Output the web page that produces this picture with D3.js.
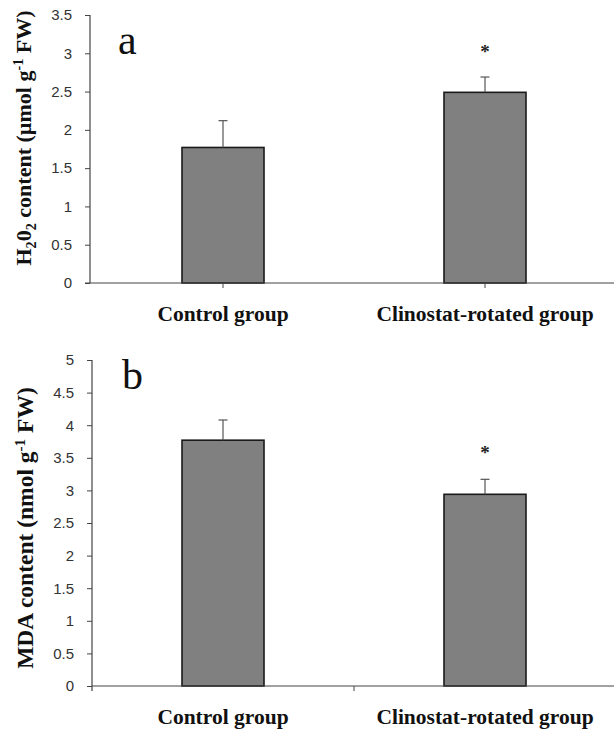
<!DOCTYPE html>
<html>
<head>
<meta charset="utf-8">
<script src="https://cdn.jsdelivr.net/npm/d3@7"></script>
<style>
  html, body { margin: 0; padding: 0; background: #fff; }
  svg { display: block; }
</style>
</head>
<body>
<div id="graf"></div>
<script>
// data
const groups = ["Control group", "Clinostat-rotated group"];
const h2o2Mean = [1.77, 2.49];
const h2o2Err = [0.35, 0.20];
const h2o2Sig = [false, true];
const h2o2Ticks = [0, 0.5, 1, 1.5, 2, 2.5, 3, 3.5];
const mdaMean = [3.77, 2.94];
const mdaErr = [0.31, 0.23];
const mdaSig = [false, true];
const mdaTicks = [0, 0.5, 1, 1.5, 2, 2.5, 3, 3.5, 4, 4.5, 5];

let width = 614, height = 731;

let svg = d3.select("#graf").append("svg")
            .attr("width", width)
            .attr("height", height)
            .attr("viewBox", [0, 0, width, height]);

const serif = "'Liberation Serif', 'Times New Roman', serif";
const sans = "'Liberation Sans', Arial, sans-serif";

let panels = [
    { letter: "a", mean: h2o2Mean, err: h2o2Err, sig: h2o2Sig, ticks: h2o2Ticks,
      top: 15, bottom: 283, axisX: 90, letterX: 118, letterY: 54,
      labelX: 31, labelY: 138, labelSize: 22, sigOffset: 31, xTicks: "center" },
    { letter: "b", mean: mdaMean, err: mdaErr, sig: mdaSig, ticks: mdaTicks,
      top: 360, bottom: 686, axisX: 92, letterX: 122, letterY: 389,
      labelX: 33, labelY: 528, labelSize: 23.5, sigOffset: 32, xTicks: "between" }
];

panels.forEach(p => {
    const g = svg.append("g");
    const ymax = p.ticks[p.ticks.length - 1];
    const y = d3.scaleLinear().domain([0, ymax]).range([p.bottom, p.top]);
    const x = d3.scaleBand().domain(groups).range([92, 616]).padding(0);
    const barW = x.bandwidth() * 0.313;

    // y axis
    const yAxis = g.append("g")
        .attr("transform", `translate(${p.axisX},0)`)
        .call(d3.axisLeft(y).tickValues(p.ticks).tickSize(5).tickSizeOuter(0).tickPadding(13)
              .tickFormat(d3.format("")));
    yAxis.select(".domain").remove();
    yAxis.selectAll(".tick line").attr("stroke", "#444");
    yAxis.selectAll(".tick text")
        .attr("font-family", sans)
        .attr("font-size", 15)
        .attr("fill", "#333");
    g.append("line")
        .attr("x1", p.axisX).attr("x2", p.axisX)
        .attr("y1", y(ymax)).attr("y2", p.xTicks === "between" ? p.bottom + 5 : p.bottom)
        .attr("stroke", "#444").attr("stroke-width", 1.2);

    // bars
    g.selectAll("rect.bar")
        .data(groups)
        .join("rect")
        .attr("class", "bar")
        .attr("x", d => x(d) + x.bandwidth() / 2 - barW / 2)
        .attr("width", barW)
        .attr("y", (d, i) => y(p.mean[i]))
        .attr("height", (d, i) => y(0) - y(p.mean[i]))
        .attr("fill", "#808080")
        .attr("stroke", "#1a1a1a")
        .attr("stroke-width", 1.6);

    // error bars (upper only)
    const eb = g.selectAll("g.err")
        .data(groups)
        .join("g")
        .attr("class", "err")
        .attr("stroke", "#555")
        .attr("stroke-width", 1.2);
    eb.append("line")
        .attr("x1", d => x(d) + x.bandwidth() / 2)
        .attr("x2", d => x(d) + x.bandwidth() / 2)
        .attr("y1", (d, i) => y(p.mean[i]))
        .attr("y2", (d, i) => y(p.mean[i] + p.err[i]));
    eb.append("line")
        .attr("x1", d => x(d) + x.bandwidth() / 2 - 4.5)
        .attr("x2", d => x(d) + x.bandwidth() / 2 + 4.5)
        .attr("y1", (d, i) => y(p.mean[i] + p.err[i]))
        .attr("y2", (d, i) => y(p.mean[i] + p.err[i]));

    // significance stars
    g.selectAll("text.sig")
        .data(groups.filter((d, i) => p.sig[i]))
        .join("text")
        .attr("class", "sig")
        .attr("x", d => x(d) + x.bandwidth() / 2)
        .attr("y", d => y(p.mean[groups.indexOf(d)] + p.err[groups.indexOf(d)]) - p.sigOffset + 12)
        .attr("text-anchor", "middle")
        .attr("font-family", serif)
        .attr("font-weight", "bold")
        .attr("font-size", 19)
        .attr("fill", "#222")
        .text("*");

    // x axis
    g.append("line")
        .attr("x1", p.xTicks === "center" ? 85 : p.axisX).attr("x2", width)
        .attr("y1", p.bottom).attr("y2", p.bottom)
        .attr("stroke", "#444").attr("stroke-width", 1.2);
    const tickPos = p.xTicks === "center"
        ? groups.map(d => x(d) + x.bandwidth() / 2)
        : [x(groups[1])];
    g.selectAll("line.xt")
        .data(tickPos)
        .join("line")
        .attr("class", "xt")
        .attr("x1", d => d).attr("x2", d => d)
        .attr("y1", p.bottom).attr("y2", p.bottom + 5)
        .attr("stroke", "#444");

    g.selectAll("text.cat")
        .data(groups)
        .join("text")
        .attr("class", "cat")
        .attr("x", d => x(d) + x.bandwidth() / 2)
        .attr("y", p.bottom + 38)
        .attr("text-anchor", "middle")
        .attr("font-family", serif)
        .attr("font-weight", "bold")
        .attr("font-size", 21.5)
        .attr("fill", "#111")
        .text(d => d);

    // panel letter
    g.append("text")
        .attr("x", p.letterX)
        .attr("y", p.letterY)
        .attr("font-family", serif)
        .attr("font-size", 42)
        .attr("fill", "#111")
        .text(p.letter);

    // y label
    const sub = p.labelSize * 0.65;
    const lab = g.append("text")
        .attr("transform", `translate(${p.labelX},${p.labelY}) rotate(-90)`)
        .attr("text-anchor", "middle")
        .attr("font-family", serif)
        .attr("font-weight", "bold")
        .attr("font-size", p.labelSize)
        .attr("fill", "#111");
    if (p.letter === "a") {
        lab.append("tspan").text("H");
        lab.append("tspan").attr("font-size", sub).attr("dy", 5).text("2");
        lab.append("tspan").attr("dy", -5).text("0");
        lab.append("tspan").attr("font-size", sub).attr("dy", 5).text("2");
        lab.append("tspan").attr("dy", -5).text(" content (µmol g");
    } else {
        lab.append("tspan").text("MDA content (nmol g");
    }
    lab.append("tspan").attr("font-size", sub).attr("dy", -8).text("-1");
    lab.append("tspan").attr("dy", 8).text(" FW)");
});
</script>
</body>
</html>
